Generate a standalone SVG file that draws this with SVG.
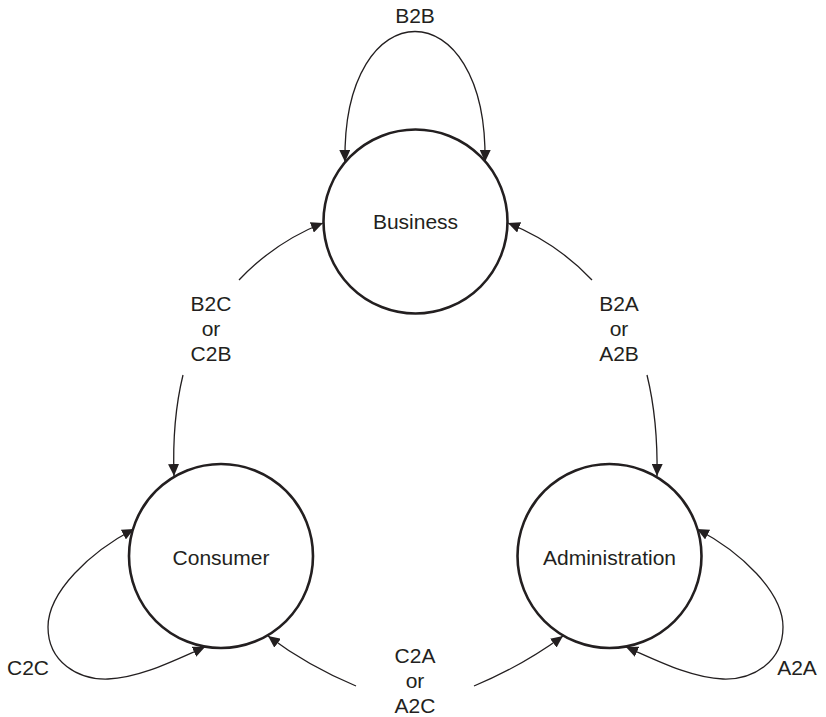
<svg xmlns="http://www.w3.org/2000/svg" width="826" height="717" viewBox="0 0 826 717">
<style>
.node{fill:#fff;stroke:#231f20;stroke-width:2.6}
.lbl{font-family:"Liberation Sans",Arial,sans-serif;font-size:21px;fill:#231f20;text-anchor:middle}
.edge{fill:none;stroke:#231f20;stroke-width:1.3}
</style>
<defs>
<marker id="ah" markerUnits="userSpaceOnUse" markerWidth="12" markerHeight="11" refX="12" refY="5.5" orient="auto-start-reverse">
<path d="M0,0 L12,5.5 L0,11 z" fill="#231f20"/>
</marker>
</defs>
<rect width="826" height="717" fill="#fff"/>
<g id="connectors">
<path class="edge" d="M345,162 C342,-12 488,-12 485,162" marker-start="url(#ah)" marker-end="url(#ah)"/>
<path class="edge" d="M239,280 Q275,242 323,223" marker-end="url(#ah)"/>
<path class="edge" d="M183,375 Q172,420 174,476" marker-end="url(#ah)"/>
<path class="edge" d="M592,280 Q556,242 508,223" marker-end="url(#ah)"/>
<path class="edge" d="M647,375 Q658,420 657,476" marker-end="url(#ah)"/>
<path class="edge" d="M134,529 C90,552 48,592 48,627 C48,662 78,680 108,679 C140,678 175,660 205,647" marker-start="url(#ah)" marker-end="url(#ah)"/>
<path class="edge" d="M697,529 C741,552 783,592 783,627 C783,662 753,680 723,679 C691,678 656,660 626,647" marker-start="url(#ah)" marker-end="url(#ah)"/>
<path class="edge" d="M356,686 Q308,666 268,636" marker-end="url(#ah)"/>
<path class="edge" d="M474,686 Q522,666 563,636" marker-end="url(#ah)"/>
</g>
<g id="business">
<circle class="node" cx="415.5" cy="221.5" r="92"/>
<text class="lbl" x="415.5" y="229">Business</text>
</g>
<g id="consumer">
<circle class="node" cx="221" cy="556" r="92"/>
<text class="lbl" x="221" y="565">Consumer</text>
</g>
<g id="administration">
<circle class="node" cx="609.5" cy="556" r="92"/>
<text class="lbl" x="609.5" y="565">Administration</text>
</g>
<g id="labels">
<text class="lbl" x="415" y="23">B2B</text>
<text class="lbl" x="211" y="311">B2C</text>
<text class="lbl" x="211" y="336">or</text>
<text class="lbl" x="211" y="361">C2B</text>
<text class="lbl" x="619" y="311">B2A</text>
<text class="lbl" x="619" y="336">or</text>
<text class="lbl" x="619" y="361">A2B</text>
<text class="lbl" x="415" y="663">C2A</text>
<text class="lbl" x="415" y="688">or</text>
<text class="lbl" x="415" y="713">A2C</text>
<text class="lbl" x="28" y="675">C2C</text>
<text class="lbl" x="797" y="675">A2A</text>
</g>
</svg>
